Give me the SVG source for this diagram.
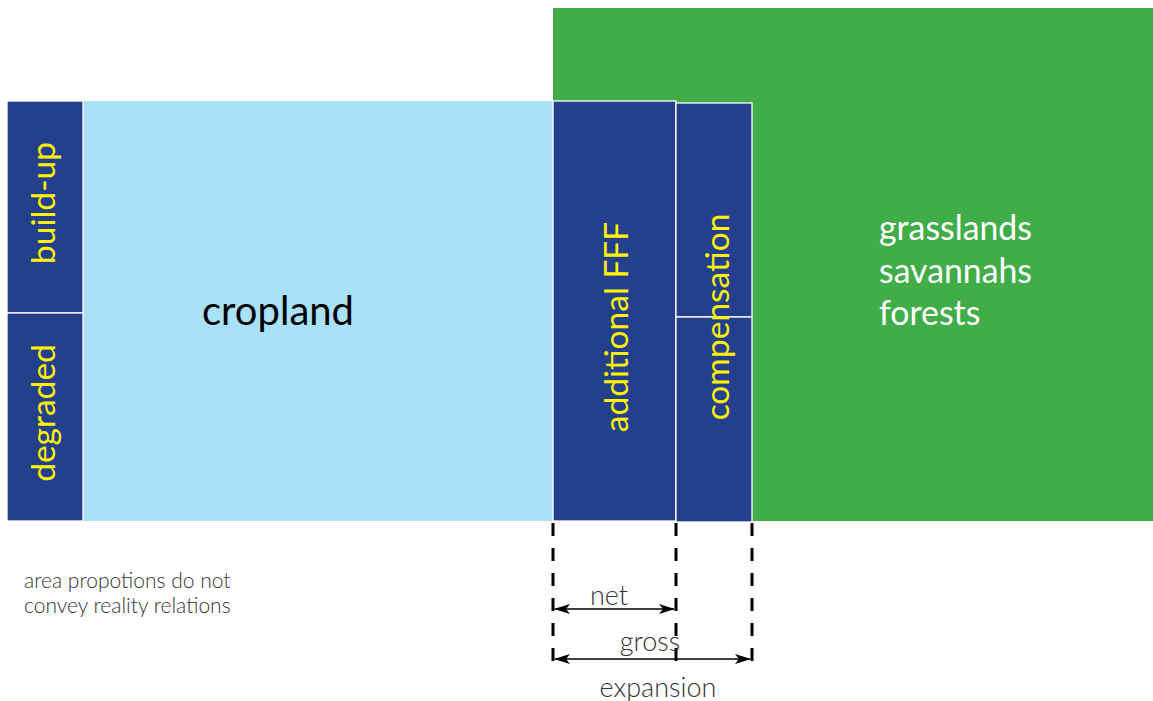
<svg xmlns="http://www.w3.org/2000/svg" width="1153" height="701" viewBox="0 0 1153 701">
<defs>
<style>
.blue{fill:#243F8C;stroke:#ffffff;stroke-width:1.3}
.ylw{fill:#FFF200;font-family:Lato,"Noto Sans","Liberation Sans",sans-serif;font-size:33.5px;text-anchor:middle}
.lbl{fill:#333333;font-family:Lato,"Noto Sans","Liberation Sans",sans-serif;font-weight:300;font-size:27px;text-anchor:middle}
.note{fill:#333333;font-family:Lato,"Noto Sans","Liberation Sans",sans-serif;font-weight:300;font-size:21px}
.wht{fill:#ffffff;font-family:Lato,"Noto Sans","Liberation Sans",sans-serif;font-size:33.8px}
.dash{stroke:#000;stroke-width:3;stroke-dasharray:13 12;fill:none}
.arr{stroke:#000;stroke-width:1.5;fill:none;marker-start:url(#ah);marker-end:url(#ah)}
</style>
<marker id="ah" viewBox="0 0 16 10" refX="15" refY="5" markerWidth="16" markerHeight="10" markerUnits="userSpaceOnUse" orient="auto-start-reverse">
<path d="M0,0 L16,5 L0,10 L4,5 Z" fill="#000"/>
</marker>
</defs>
<rect width="1153" height="701" fill="#ffffff"/>
<g id="green">
<rect x="553" y="8" width="600" height="513" fill="#41AD49"/>
<text class="wht" x="879" y="240">grasslands</text>
<text class="wht" x="879" y="283">savannahs</text>
<text class="wht" x="879" y="325">forests</text>
</g>
<g id="cropland">
<rect x="83" y="101" width="470" height="420" fill="#A9E1F9"/>
<text x="278" y="325" fill="#000" font-family="Lato,'Noto Sans','Liberation Sans',sans-serif" font-size="40" text-anchor="middle">cropland</text>
</g>
<g id="build-up">
<rect class="blue" x="7" y="101" width="76" height="212"/>
<text class="ylw" transform="translate(55,203) rotate(-90)">build-up</text>
</g>
<g id="degraded">
<rect class="blue" x="7" y="313" width="76" height="208"/>
<text class="ylw" transform="translate(55,413) rotate(-90)">degraded</text>
</g>
<g id="additional">
<rect class="blue" x="553" y="101" width="123" height="420"/>
<text class="ylw" transform="translate(628,327) rotate(-90)">additional FFF</text>
</g>
<g id="compensation">
<rect class="blue" x="676" y="103" width="76" height="214"/>
<rect class="blue" x="676" y="317" width="76" height="205"/>
<text class="ylw" transform="translate(729,317) rotate(-90)">compensation</text>
</g>
<g id="connectors">
<line class="dash" x1="553" y1="523" x2="553" y2="666"/>
<line class="dash" x1="676" y1="523" x2="676" y2="666"/>
<line class="dash" x1="752" y1="523" x2="752" y2="666"/>
<line class="arr" x1="555" y1="609" x2="674" y2="609"/>
<line class="arr" x1="555" y1="659" x2="750" y2="659"/>
</g>
<g id="labels">
<text class="lbl" x="609" y="605">net</text>
<text class="lbl" x="650" y="651">gross</text>
<text class="lbl" x="658" y="697">expansion</text>
<text class="note" x="24" y="588">area propotions do not</text>
<text class="note" x="24" y="613">convey reality relations</text>
</g>
</svg>
